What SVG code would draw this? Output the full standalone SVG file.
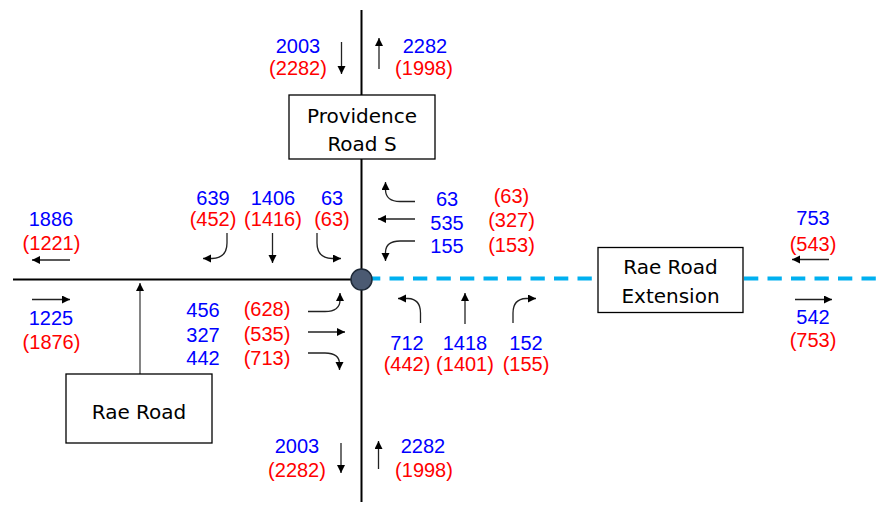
<svg xmlns="http://www.w3.org/2000/svg" width="877" height="506" viewBox="0 0 877 506">
  <style>
    .road { stroke: #000; stroke-width: 2; fill: none; }
    .ext { stroke: #00b0f0; stroke-width: 4; fill: none; stroke-dasharray: 14.3 9.2; }
    .arr { stroke: #222; stroke-width: 1.3; fill: none; marker-end: url(#head); }
    .link { stroke: #666; stroke-width: 1.6; fill: none; marker-end: url(#head); }
    .box { fill: #fff; stroke: #000; stroke-width: 1.3; }
    .name { font-family: "DejaVu Sans", "Noto Sans", sans-serif; font-size: 20px; fill: #000; text-anchor: middle; }
    .num { font-family: "Liberation Sans", Arial, sans-serif; font-size: 20px; text-anchor: middle; }
    .am { fill: #0000ff; }
    .pm { fill: #ff0000; }
  </style>
  <defs>
    <marker id="head" markerUnits="userSpaceOnUse" markerWidth="9" markerHeight="9" refX="8" refY="4" orient="auto">
      <path d="M0,0 L8,4 L0,8 z" fill="#000"/>
    </marker>
  </defs>

  <rect width="877" height="506" fill="#fff"/>

  <!-- roads -->
  <g id="roads">
    <path class="road" d="M361.5,10 V502"/>
    <path class="road" d="M13,279.5 H361"/>
    <path class="ext" d="M366,278.5 H598"/>
    <path class="ext" d="M744,278.5 H877"/>
  </g>

  <!-- turning movement arrows -->
  <g id="connectors">
    <!-- north leg -->
    <path class="arr" d="M341.5,42 V74"/>
    <path class="arr" d="M379,69 V38"/>
    <!-- south leg -->
    <path class="arr" d="M341,443 V473"/>
    <path class="arr" d="M378.5,469 V441"/>
    <!-- west leg -->
    <path class="arr" d="M70,260 H32"/>
    <path class="arr" d="M32,299.5 H70"/>
    <!-- east leg -->
    <path class="arr" d="M829,259.5 H792"/>
    <path class="arr" d="M795,299.5 H832"/>
    <!-- southbound approach -->
    <path class="arr" d="M227,233 V243 Q227,258 212,258.5 H203"/>
    <path class="arr" d="M272.5,233 V263"/>
    <path class="arr" d="M317,233 V243 Q317,258 332,258.5 H341"/>
    <!-- westbound approach -->
    <path class="arr" d="M415,201.5 H400 Q386,201.5 385.5,190 V182"/>
    <path class="arr" d="M415,219 H378"/>
    <path class="arr" d="M415,241 H400 Q386,241 385.5,252 V261"/>
    <!-- eastbound approach -->
    <path class="arr" d="M308,311.5 H325 Q340,311.5 340,300 V293"/>
    <path class="arr" d="M308,332 H345"/>
    <path class="arr" d="M308,353 H325 Q339.5,353 339.5,364 V370"/>
    <!-- northbound approach -->
    <path class="arr" d="M420.5,323 V313 Q420.5,299 408,298.5 H398"/>
    <path class="arr" d="M465,324 V293"/>
    <path class="arr" d="M513,323 V313 Q513,299 526,298.5 H536"/>
    <!-- Rae Road link -->
    <path class="link" d="M140,374 V283"/>
  </g>

  <!-- intersection node -->
  <g id="intersection">
    <circle cx="361.5" cy="279.5" r="10.5" fill="#4b5a72" stroke="#1f2a38" stroke-width="1.5"/>
  </g>

  <g id="providence-road-s">
    <rect class="box" x="289" y="95" width="146" height="64"/>
    <text class="name" x="362" y="122.5">Providence</text>
    <text class="name" x="362" y="150.5">Road S</text>
  </g>

  <g id="rae-road-extension">
    <rect class="box" x="598" y="247.5" width="145" height="65"/>
    <text class="name" x="670.5" y="274">Rae Road</text>
    <text class="name" x="670.5" y="303">Extension</text>
  </g>

  <g id="rae-road">
    <rect class="box" x="66" y="374" width="146" height="69"/>
    <text class="name" x="139" y="419">Rae Road</text>
  </g>

  <!-- volumes: AM (blue), PM (red) -->
  <g id="volumes-north">
    <text class="num am" x="298" y="53">2003</text>
    <text class="num pm" x="298" y="75">(2282)</text>
    <text class="num am" x="425" y="53">2282</text>
    <text class="num pm" x="424" y="75">(1998)</text>
  </g>
  <g id="volumes-south">
    <text class="num am" x="297" y="453">2003</text>
    <text class="num pm" x="297" y="476.5">(2282)</text>
    <text class="num am" x="423" y="453">2282</text>
    <text class="num pm" x="424" y="476.5">(1998)</text>
  </g>
  <g id="volumes-west">
    <text class="num am" x="51" y="226">1886</text>
    <text class="num pm" x="51.5" y="250">(1221)</text>
    <text class="num am" x="51" y="325">1225</text>
    <text class="num pm" x="51.5" y="349">(1876)</text>
  </g>
  <g id="volumes-east">
    <text class="num am" x="813" y="225">753</text>
    <text class="num pm" x="813" y="251">(543)</text>
    <text class="num am" x="813" y="324">542</text>
    <text class="num pm" x="813" y="347">(753)</text>
  </g>
  <g id="volumes-southbound">
    <text class="num am" x="213" y="204.5">639</text>
    <text class="num pm" x="213" y="226">(452)</text>
    <text class="num am" x="273" y="204.5">1406</text>
    <text class="num pm" x="273" y="226">(1416)</text>
    <text class="num am" x="332" y="204.5">63</text>
    <text class="num pm" x="332" y="226">(63)</text>
  </g>
  <g id="volumes-westbound">
    <text class="num am" x="447" y="206">63</text>
    <text class="num am" x="447" y="230">535</text>
    <text class="num am" x="447" y="252.5">155</text>
    <text class="num pm" x="511.5" y="203">(63)</text>
    <text class="num pm" x="511.5" y="227">(327)</text>
    <text class="num pm" x="511.5" y="251.5">(153)</text>
  </g>
  <g id="volumes-eastbound">
    <text class="num am" x="203" y="316.5">456</text>
    <text class="num am" x="203" y="341.5">327</text>
    <text class="num am" x="203" y="365">442</text>
    <text class="num pm" x="267" y="316">(628)</text>
    <text class="num pm" x="267" y="341">(535)</text>
    <text class="num pm" x="267" y="365">(713)</text>
  </g>
  <g id="volumes-northbound">
    <text class="num am" x="407" y="350">712</text>
    <text class="num pm" x="407" y="370.5">(442)</text>
    <text class="num am" x="465" y="350">1418</text>
    <text class="num pm" x="465" y="370.5">(1401)</text>
    <text class="num am" x="526" y="350">152</text>
    <text class="num pm" x="526" y="370.5">(155)</text>
  </g>
</svg>
